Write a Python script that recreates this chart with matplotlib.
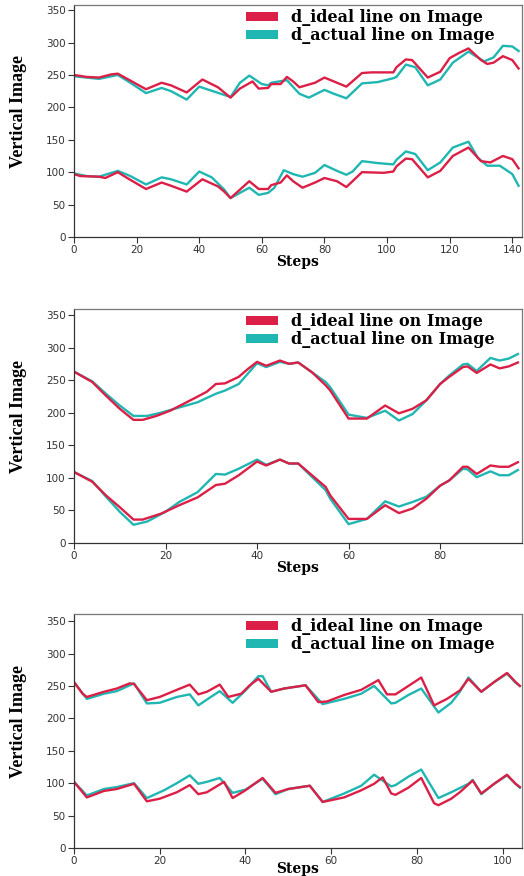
import matplotlib
matplotlib.use('Agg')
import matplotlib.pyplot as plt
from matplotlib.patches import Patch

# ---- panel 1 (143 steps) ----
p1_ideal_top_x = [0, 4, 8, 12, 14, 17, 23, 28, 31, 36, 41, 46, 50, 53, 57, 59, 62, 63, 66, 68, 70, 72, 77, 80, 83, 87, 92, 95, 102, 103, 106, 108, 113, 117, 120, 123, 126, 130, 132, 134, 137, 140, 142]
p1_ideal_top = [250, 247, 246, 251, 252, 244, 228, 238, 234, 223, 243, 231, 215, 229, 240, 229, 230, 236, 236, 247, 240, 231, 238, 246, 240, 232, 253, 254, 254, 262, 274, 273, 246, 255, 276, 284, 291, 273, 267, 269, 279, 273, 260]
p1_actual_top_x = [0, 4, 8, 14, 18, 23, 28, 31, 36, 40, 45, 50, 53, 56, 60, 62, 63, 68, 72, 75, 80, 83, 87, 92, 97, 102, 103, 106, 109, 113, 117, 121, 126, 131, 134, 137, 140, 142]
p1_actual_top = [248, 246, 244, 250, 238, 222, 230, 225, 212, 232, 224, 216, 238, 249, 236, 234, 238, 242, 221, 215, 227, 221, 214, 237, 239, 245, 247, 266, 262, 234, 243, 269, 286, 271, 277, 295, 294, 287]
p1_ideal_low_x = [0, 2, 8, 10, 14, 17, 23, 28, 31, 36, 41, 46, 48, 50, 53, 56, 59, 62, 63, 66, 68, 70, 73, 77, 80, 84, 87, 92, 99, 102, 103, 106, 108, 113, 117, 121, 126, 130, 133, 137, 140, 142]
p1_ideal_low = [97, 94, 93, 91, 100, 91, 74, 84, 79, 70, 89, 78, 70, 60, 73, 86, 74, 74, 80, 84, 95, 86, 76, 84, 91, 86, 77, 100, 99, 101, 109, 121, 120, 92, 102, 125, 138, 117, 115, 125, 120, 106]
p1_actual_low_x = [0, 4, 8, 14, 18, 23, 28, 31, 36, 40, 44, 48, 50, 53, 56, 59, 62, 64, 67, 70, 73, 77, 80, 84, 87, 89, 92, 97, 102, 103, 106, 109, 113, 117, 121, 126, 129, 132, 136, 140, 142]
p1_actual_low = [98, 94, 93, 102, 94, 81, 92, 89, 81, 101, 92, 73, 60, 68, 76, 65, 68, 76, 103, 97, 93, 99, 111, 102, 96, 101, 117, 114, 112, 119, 132, 128, 103, 115, 138, 147, 122, 110, 110, 97, 79]

# ---- panel 2 (98 steps) ----
p2_ideal_top_x = [0, 4, 7, 10, 13, 15, 18, 21, 26, 29, 31, 33, 36, 38, 40, 42, 45, 47, 49, 52, 55, 56, 60, 64, 68, 71, 74, 77, 80, 82, 85, 86, 88, 91, 93, 95, 97]
p2_ideal_top = [263, 247, 226, 206, 189, 189, 195, 203, 221, 232, 244, 245, 255, 267, 278, 272, 280, 275, 277, 262, 242, 234, 191, 191, 211, 199, 206, 219, 244, 255, 270, 271, 261, 274, 268, 271, 277]
p2_actual_top_x = [0, 4, 7, 10, 13, 16, 19, 23, 27, 31, 33, 36, 38, 40, 42, 45, 47, 49, 52, 55, 56, 60, 64, 68, 71, 74, 77, 80, 82, 85, 86, 88, 91, 93, 95, 97]
p2_actual_top = [263, 248, 229, 211, 195, 195, 200, 208, 216, 229, 234, 244, 260, 276, 270, 278, 275, 277, 262, 247, 239, 197, 192, 203, 188, 198, 219, 244, 257, 274, 275, 264, 284, 280, 283, 290]
p2_ideal_low_x = [0, 4, 7, 10, 13, 15, 19, 23, 27, 31, 33, 36, 40, 42, 45, 47, 49, 55, 56, 60, 64, 68, 71, 74, 77, 80, 82, 85, 86, 88, 91, 93, 95, 97]
p2_ideal_low = [109, 94, 73, 55, 36, 36, 45, 58, 70, 89, 91, 104, 125, 119, 128, 122, 122, 86, 73, 37, 37, 58, 46, 53, 68, 88, 96, 117, 117, 106, 119, 117, 117, 124]
p2_actual_low_x = [0, 4, 7, 10, 13, 16, 20, 23, 27, 31, 33, 36, 40, 42, 45, 47, 49, 55, 56, 60, 64, 68, 71, 74, 77, 80, 82, 85, 86, 88, 91, 93, 95, 97]
p2_actual_low = [109, 95, 71, 48, 28, 33, 48, 63, 78, 106, 105, 114, 128, 120, 128, 122, 122, 81, 68, 29, 37, 64, 56, 63, 71, 88, 96, 114, 113, 101, 110, 104, 104, 112]

# ---- panel 3 (105 steps) ----
p3_ideal_top_x = [0, 2, 3, 7, 10, 13, 14, 17, 20, 24, 27, 29, 31, 34, 36, 39, 41, 43, 46, 49, 52, 54, 57, 59, 63, 67, 71, 73, 75, 78, 81, 84, 87, 90, 92, 95, 98, 101, 103, 104]
p3_ideal_top = [256, 238, 233, 241, 246, 254, 253, 228, 233, 244, 252, 237, 241, 252, 233, 238, 251, 261, 241, 246, 249, 251, 225, 226, 236, 244, 259, 237, 237, 250, 263, 220, 230, 243, 261, 241, 256, 270, 256, 250]
p3_actual_top_x = [0, 3, 7, 10, 14, 17, 20, 24, 27, 29, 31, 34, 37, 40, 43, 44, 46, 49, 52, 54, 58, 63, 67, 70, 74, 75, 78, 81, 85, 88, 90, 92, 95, 98, 101, 103, 104]
p3_actual_top = [256, 230, 238, 242, 254, 223, 224, 233, 237, 220, 229, 242, 224, 243, 265, 265, 241, 246, 249, 251, 222, 230, 238, 250, 223, 224, 236, 246, 209, 224, 241, 263, 241, 256, 269, 255, 250]
p3_ideal_low_x = [0, 3, 7, 10, 14, 17, 20, 24, 27, 29, 31, 35, 37, 40, 44, 47, 50, 53, 55, 58, 63, 67, 70, 72, 74, 75, 78, 81, 84, 85, 88, 90, 93, 95, 98, 101, 103, 104]
p3_ideal_low = [102, 78, 88, 91, 99, 72, 76, 86, 97, 83, 86, 102, 77, 89, 108, 85, 91, 94, 96, 71, 78, 89, 99, 109, 84, 82, 93, 108, 69, 66, 76, 86, 104, 84, 99, 113, 99, 94]
p3_actual_low_x = [0, 3, 7, 10, 14, 17, 21, 24, 27, 29, 31, 34, 37, 40, 44, 47, 50, 53, 55, 58, 63, 67, 70, 74, 75, 78, 81, 85, 88, 92, 93, 95, 98, 101, 103, 104]
p3_actual_low = [102, 81, 91, 94, 100, 77, 89, 100, 112, 99, 102, 108, 85, 90, 107, 83, 91, 94, 96, 71, 84, 96, 113, 95, 97, 110, 121, 77, 86, 99, 105, 83, 99, 112, 99, 93]

legend_labels = ['d_ideal line on Image', 'd_actual line on Image']
RED = '#dc1f46'
TEAL = '#20b6b2'


def plot_panel(ax, ideal, actual, x_max, y_max, xlabel_pad=0):
    # teal underneath, red on top
    for steps, vals in actual:
        ax.plot(steps, vals, color=TEAL, lw=1.7)
    for steps, vals in ideal:
        ax.plot(steps, vals, color=RED, lw=1.7)

    ax.set(xlim=[0, x_max], ylim=[0, y_max], yticks=range(0, 351, 50))
    ax.set_xticks(range(0, int(x_max) + 1, 20))
    ax.tick_params(labelsize=7.5, labelcolor='#333333', length=4, width=0.8,
                   color='#333333', pad=2)
    for side in ['left', 'bottom']:
        ax.spines[side].set_color('#333333')
    for side in ['top', 'right']:
        ax.spines[side].set_color('#777777')
    for sp in ax.spines.values():
        sp.set_linewidth(0.9)

    ax.set_xlabel('Steps', family='DejaVu Serif', weight='bold', fontsize=10, labelpad=xlabel_pad)
    ax.set_ylabel('Vertical Image', family='Liberation Serif', weight='bold', fontsize=13)
    ax.yaxis.set_label_coords(-0.105, 0.54)

    handles = [Patch(facecolor=RED), Patch(facecolor=TEAL)]
    ax.legend(handles, legend_labels, loc='upper right', bbox_to_anchor=(0.945, 0.995),
              frameon=False, handlelength=2.0, handleheight=0.45, handletextpad=0.8,
              labelspacing=0.05, borderaxespad=0.0, borderpad=0.2,
              prop={'family': 'DejaVu Serif', 'weight': 'bold', 'size': 11.5})


fig = plt.figure(figsize=(5.24, 8.76), dpi=100)
ax1 = fig.add_axes([0.1412, 0.7295, 0.855, 0.2648])
ax2 = fig.add_axes([0.1412, 0.3801, 0.855, 0.2671])
ax3 = fig.add_axes([0.1412, 0.0320, 0.855, 0.2671])

plot_panel(ax1,
           [(p1_ideal_top_x, p1_ideal_top), (p1_ideal_low_x, p1_ideal_low)],
           [(p1_actual_top_x, p1_actual_top), (p1_actual_low_x, p1_actual_low)],
           143.1, 358)
plot_panel(ax2,
           [(p2_ideal_top_x, p2_ideal_top), (p2_ideal_low_x, p2_ideal_low)],
           [(p2_actual_top_x, p2_actual_top), (p2_actual_low_x, p2_actual_low)],
           97.9, 359)
plot_panel(ax3,
           [(p3_ideal_top_x, p3_ideal_top), (p3_ideal_low_x, p3_ideal_low)],
           [(p3_actual_top_x, p3_actual_top), (p3_actual_low_x, p3_actual_low)],
           104.5, 361, xlabel_pad=-3)

fig.savefig('out.png', dpi=100)
